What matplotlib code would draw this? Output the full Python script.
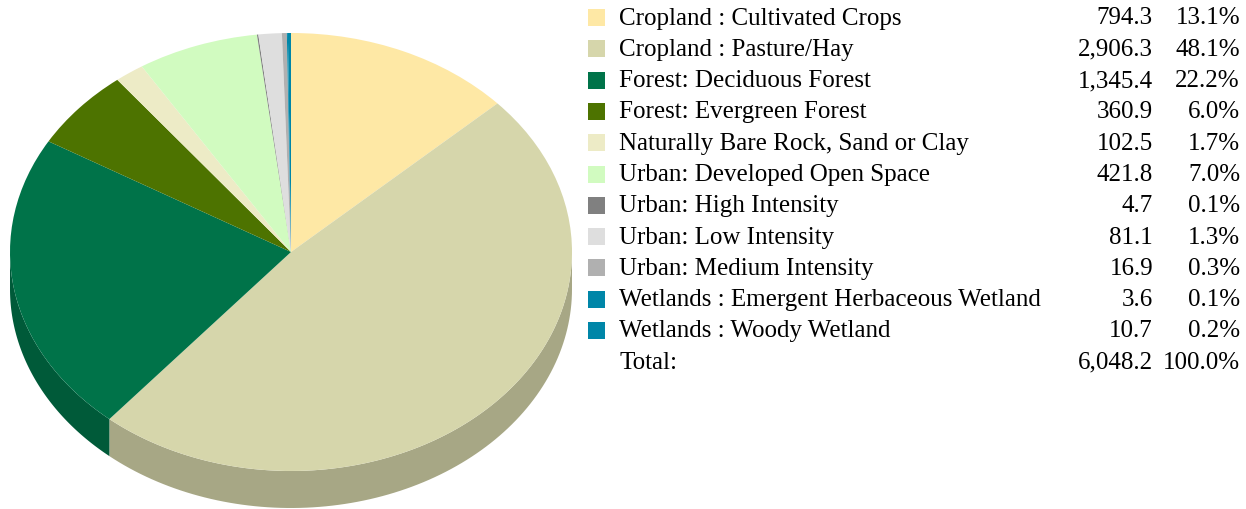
import numpy as np
import matplotlib
matplotlib.use('Agg')
import matplotlib.pyplot as plt
from matplotlib.patches import Wedge, Polygon, Rectangle
from matplotlib.transforms import Affine2D
from matplotlib.colors import to_rgb

labels = ['Cropland : Cultivated Crops', 'Cropland : Pasture/Hay',
          'Forest: Deciduous Forest', 'Forest: Evergreen Forest',
          'Naturally Bare Rock, Sand or Clay', 'Urban: Developed Open Space',
          'Urban: High Intensity', 'Urban: Low Intensity',
          'Urban: Medium Intensity', 'Wetlands : Emergent Herbaceous Wetland',
          'Wetlands : Woody Wetland']
values = [794.3, 2906.3, 1345.4, 360.9, 102.5, 421.8, 4.7, 81.1, 16.9, 3.6, 10.7]
colors = ['#FEE8A5', '#D6D6AB', '#007349', '#4D7300', '#EDEBC6', '#D1FBC0',
          '#808080', '#DEDEDE', '#B0B0B0', '#0086A8', '#0086A8']

plt.rcParams['font.family'] = ['Liberation Serif', 'DejaVu Serif']

fig = plt.figure(figsize=(12.46, 5.10), dpi=100)
ax = fig.add_axes([0, 0, 1, 1])
ax.set_xlim(0, 1246)
ax.set_ylim(510, 0)
ax.axis('off')

# pie geometry (pixels)
cx, cy, rx, ry, depth = 291, 253, 281, 219, 37
total = sum(values)
tr = Affine2D().scale(rx, -ry).translate(cx, cy) + ax.transData

def darker(c, f=0.78):
    return tuple(v * f for v in to_rgb(c))

# side walls first
cum = 0
for v, c in zip(values, colors):
    a = 90 - (cum + v) / total * 360
    b = 90 - cum / total * 360
    cum += v
    lo, hi = max(a, -180), min(b, 0)
    if hi <= lo:
        continue
    t = np.radians(np.linspace(lo, hi, 100))
    xs = cx + rx * np.cos(t)
    ys = cy - ry * np.sin(t)
    pts = np.concatenate([np.column_stack([xs, ys]),
                          np.column_stack([xs[::-1], ys[::-1] + depth])])
    ax.add_patch(Polygon(pts, closed=True, facecolor=darker(c), edgecolor='none'))

# top face
cum = 0
for v, c in zip(values, colors):
    a = 90 - (cum + v) / total * 360
    b = 90 - cum / total * 360
    cum += v
    ax.add_patch(Wedge((0, 0), 1, a, b, facecolor=c, edgecolor='none',
                       transform=tr))

# legend table
fs = 18
y0, dy = 18.5, 31.3
for i, (lab, v, c) in enumerate(zip(labels, values, colors)):
    y = y0 + i * dy
    ax.add_patch(Rectangle((588, y - 8.5), 17, 17, facecolor=c, edgecolor='none'))
    ax.text(619, y, lab, fontsize=fs, va='center', ha='left')
    ax.text(1153, y, f'{v:,.1f}', fontsize=fs, va='center', ha='right')
    ax.text(1240, y, f'{v / total * 100:.1f}%', fontsize=fs, va='center', ha='right')

y = y0 + len(values) * dy
ax.text(619, y, 'Total:', fontsize=fs, va='center', ha='left')
ax.text(1153, y, f'{total:,.1f}', fontsize=fs, va='center', ha='right')
ax.text(1240, y, '100.0%', fontsize=fs, va='center', ha='right')

fig.savefig('out.png', dpi=100)
